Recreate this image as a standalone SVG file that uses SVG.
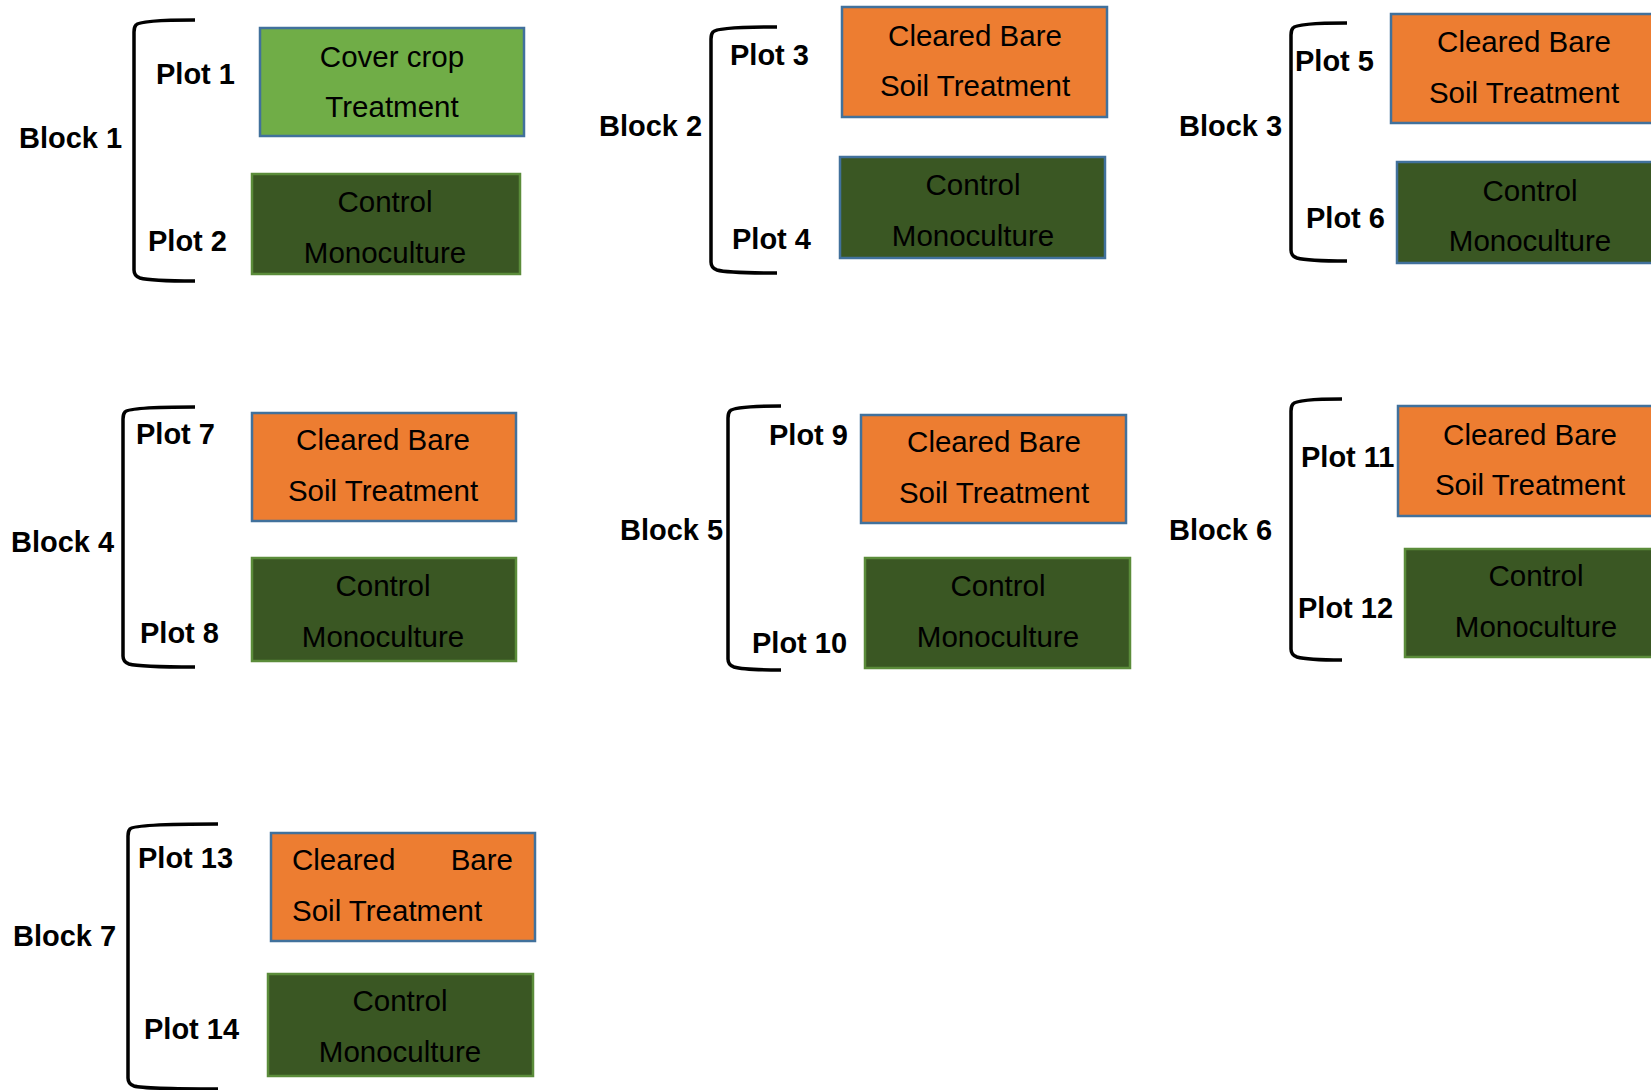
<svg xmlns="http://www.w3.org/2000/svg" width="1651" height="1090" viewBox="0 0 1651 1090">
<style>
.lbl{font-family:"Liberation Sans",Arial,sans-serif;font-weight:bold;font-size:29px;fill:#000}
.t{font-family:"Liberation Sans",Arial,sans-serif;font-size:29.5px;fill:#000;text-anchor:middle}
.or{fill:#ED7D31;stroke:#41719C;stroke-width:2.5}
.lg{fill:#70AD47;stroke:#41719C;stroke-width:2.5}
.dgb{fill:#3A5723;stroke:#41719C;stroke-width:2.5}
.dgg{fill:#3A5723;stroke:#5B8C3A;stroke-width:2.5}
.br{fill:none;stroke:#000;stroke-width:3.5}
</style>
<rect width="1651" height="1090" fill="#fff"/>
<g id="connectors">
<path class="br" d="M195,20 Q140,20 136,25 Q134,27 134,32 L134,270 Q134,276 140,278 Q150,281 195,281"/>
<path class="br" d="M777,27 Q717,27 713,32 Q711,34 711,39 L711,262 Q711,268 717,270 Q727,273 777,273"/>
<path class="br" d="M1347,23 Q1297,23 1293,28 Q1291,30 1291,35 L1291,250 Q1291,256 1297,258 Q1307,261 1347,261"/>
<path class="br" d="M195,407 Q129,407 125,412 Q123,414 123,419 L123,656 Q123,662 129,664 Q139,667 195,667"/>
<path class="br" d="M781,406 Q734,406 730,411 Q728,413 728,418 L728,659 Q728,665 734,667 Q744,670 781,670"/>
<path class="br" d="M1342,399 Q1297,399 1293,404 Q1291,406 1291,411 L1291,649 Q1291,655 1297,657 Q1307,660 1342,660"/>
<path class="br" d="M218,824 Q134,824 130,829 Q128,831 128,836 L128,1078 Q128,1084 134,1086 Q144,1089 218,1089"/>
</g>
<g id="block1">
<text class="lbl" x="19" y="148">Block 1</text>
<text class="lbl" x="156" y="84">Plot 1</text>
<text class="lbl" x="148" y="251">Plot 2</text>
</g>
<g id="box1">
<rect class="lg" x="260" y="28" width="264" height="108"/>
<text class="t" x="392" y="67">Cover crop</text>
<text class="t" x="392" y="117">Treatment</text>
</g>
<g id="box2">
<rect class="dgg" x="252" y="174" width="268" height="100"/>
<text class="t" x="385" y="212">Control</text>
<text class="t" x="385" y="263">Monoculture</text>
</g>
<g id="block2">
<text class="lbl" x="599" y="136">Block 2</text>
<text class="lbl" x="730" y="65">Plot 3</text>
<text class="lbl" x="732" y="249">Plot 4</text>
</g>
<g id="box3">
<rect class="or" x="842" y="7" width="265" height="110"/>
<text class="t" x="975" y="46">Cleared Bare</text>
<text class="t" x="975" y="96">Soil Treatment</text>
</g>
<g id="box4">
<rect class="dgb" x="840" y="157" width="265" height="101"/>
<text class="t" x="973" y="195">Control</text>
<text class="t" x="973" y="246">Monoculture</text>
</g>
<g id="block3">
<text class="lbl" x="1179" y="136">Block 3</text>
<text class="lbl" x="1295" y="71">Plot 5</text>
<text class="lbl" x="1306" y="228">Plot 6</text>
</g>
<g id="box5">
<rect class="or" x="1391" y="14" width="270" height="109"/>
<text class="t" x="1524" y="52">Cleared Bare</text>
<text class="t" x="1524" y="103">Soil Treatment</text>
</g>
<g id="box6">
<rect class="dgb" x="1397" y="162" width="270" height="101"/>
<text class="t" x="1530" y="201">Control</text>
<text class="t" x="1530" y="251">Monoculture</text>
</g>
<g id="block4">
<text class="lbl" x="11" y="552">Block 4</text>
<text class="lbl" x="136" y="444">Plot 7</text>
<text class="lbl" x="140" y="643">Plot 8</text>
</g>
<g id="box7">
<rect class="or" x="252" y="413" width="264" height="108"/>
<text class="t" x="383" y="450">Cleared Bare</text>
<text class="t" x="383" y="501">Soil Treatment</text>
</g>
<g id="box8">
<rect class="dgg" x="252" y="558" width="264" height="103"/>
<text class="t" x="383" y="596">Control</text>
<text class="t" x="383" y="647">Monoculture</text>
</g>
<g id="block5">
<text class="lbl" x="620" y="540">Block 5</text>
<text class="lbl" x="769" y="445">Plot 9</text>
<text class="lbl" x="752" y="653">Plot 10</text>
</g>
<g id="box9">
<rect class="or" x="861" y="415" width="265" height="108"/>
<text class="t" x="994" y="452">Cleared Bare</text>
<text class="t" x="994" y="503">Soil Treatment</text>
</g>
<g id="box10">
<rect class="dgg" x="865" y="558" width="265" height="110"/>
<text class="t" x="998" y="596">Control</text>
<text class="t" x="998" y="647">Monoculture</text>
</g>
<g id="block6">
<text class="lbl" x="1169" y="540">Block 6</text>
<text class="lbl" x="1301" y="467">Plot 11</text>
<text class="lbl" x="1298" y="618">Plot 12</text>
</g>
<g id="box11">
<rect class="or" x="1398" y="406" width="270" height="110"/>
<text class="t" x="1530" y="445">Cleared Bare</text>
<text class="t" x="1530" y="495">Soil Treatment</text>
</g>
<g id="box12">
<rect class="dgg" x="1405" y="549" width="270" height="108"/>
<text class="t" x="1536" y="586">Control</text>
<text class="t" x="1536" y="637">Monoculture</text>
</g>
<g id="block7">
<text class="lbl" x="13" y="946">Block 7</text>
<text class="lbl" x="138" y="868">Plot 13</text>
<text class="lbl" x="144" y="1039">Plot 14</text>
</g>
<g id="box13">
<rect class="or" x="271" y="833" width="264" height="108"/>
<text class="t" y="870"><tspan x="292" text-anchor="start">Cleared</tspan><tspan x="513" text-anchor="end">Bare</tspan></text>
<text class="t" x="292" y="921" style="text-anchor:start">Soil Treatment</text>
</g>
<g id="box14">
<rect class="dgg" x="268" y="974" width="265" height="102"/>
<text class="t" x="400" y="1011">Control</text>
<text class="t" x="400" y="1062">Monoculture</text>
</g>
</svg>
